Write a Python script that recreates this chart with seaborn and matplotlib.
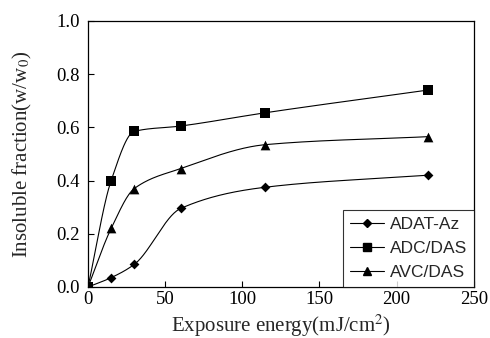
import numpy as np
import pandas as pd
import seaborn as sns
import matplotlib.pyplot as plt
from matplotlib.lines import Line2D

# Dados
energy = [0, 15, 30, 60, 115, 220]
adat_az = [0.0, 0.035, 0.085, 0.295, 0.375, 0.42]
adc_das = [0.0, 0.40, 0.585, 0.605, 0.655, 0.74]
avc_das = [0.0, 0.22, 0.37, 0.445, 0.535, 0.565]

series = {'ADAT-Az': (adat_az, 'D', 5),
          'ADC/DAS': (adc_das, 's', 6.5),
          'AVC/DAS': (avc_das, '^', 7)}


def pchip(x, y, xs):
    # curva suave monotona entre os pontos (so para o traço)
    x = np.asarray(x, float)
    y = np.asarray(y, float)
    h = np.diff(x)
    d = np.diff(y) / h
    m = np.zeros_like(y)
    for k in range(1, len(x) - 1):
        if d[k - 1] * d[k] > 0:
            w1 = 2 * h[k] + h[k - 1]
            w2 = h[k] + 2 * h[k - 1]
            m[k] = (w1 + w2) / (w1 / d[k - 1] + w2 / d[k])
    m[0] = d[0]
    m[-1] = d[-1]
    i = np.clip(np.searchsorted(x, xs) - 1, 0, len(x) - 2)
    t = (xs - x[i]) / h[i]
    h00 = 2 * t**3 - 3 * t**2 + 1
    h10 = t**3 - 2 * t**2 + t
    h01 = -2 * t**3 + 3 * t**2
    h11 = t**3 - t**2
    return h00 * y[i] + h10 * h[i] * m[i] + h01 * y[i + 1] + h11 * h[i] * m[i + 1]


sns.set_style('white')
plt.rcParams['font.family'] = ['Liberation Serif', 'DejaVu Serif']
plt.rcParams['mathtext.fontset'] = 'stix'

fig = plt.figure(figsize=(4.9, 3.38), dpi=100)
ax = fig.add_axes([0.1796, 0.151, 0.7874, 0.787])

xs = np.linspace(0, 220, 400)
handles = []
for name, (vals, mk, ms) in series.items():
    smooth = pd.DataFrame({'x': xs, 'y': pchip(energy, vals, xs)})
    sns.lineplot(data=smooth, x='x', y='y', ax=ax, color='black', lw=0.8)
    pts = pd.DataFrame({'x': energy, 'y': vals})
    sns.scatterplot(data=pts, x='x', y='y', ax=ax, marker=mk, s=ms**2,
                    color='black', edgecolor='black', linewidth=0, zorder=3)
    handles.append(Line2D([], [], color='black', lw=0.8, marker=mk,
                          markersize=ms * 0.8, label=name))

ax.set_xlim(0, 250)
ax.set_ylim(0, 1.0)
ax.set_xticks([0, 50, 100, 150, 200, 250])
ax.set_yticks([0.0, 0.2, 0.4, 0.6, 0.8, 1.0])
ax.set_yticklabels(['0.0', '0.2', '0.4', '0.6', '0.8', '1.0'])
ax.tick_params(direction='in', length=4, width=0.8, labelsize=13.5,
               colors='black', top=False, right=False, bottom=True, left=True,
               pad=3)
ax.tick_params(axis='y', pad=6)
for sp in ax.spines.values():
    sp.set_color('black')
    sp.set_linewidth(0.9)

ax.set_xlabel('Exposure energy(mJ/cm$^2$)', fontsize=15, labelpad=3)
ax.set_ylabel('Insoluble fraction(w/w$_0$)', fontsize=15, labelpad=16)

leg = ax.legend(handles=handles, loc='lower right', borderaxespad=0,
                frameon=True, fancybox=False, handlelength=2.0,
                handletextpad=0.3, borderpad=0.4, labelspacing=0.5,
                prop={'family': 'Liberation Sans', 'size': 12.5})
leg.get_frame().set_edgecolor('black')
leg.get_frame().set_linewidth(0.8)

plt.savefig('out.png', dpi=100)
